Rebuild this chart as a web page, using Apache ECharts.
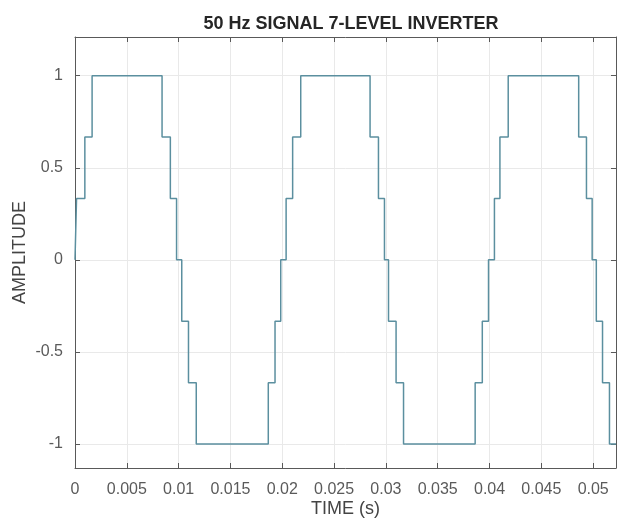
<!DOCTYPE html>
<html>
<head>
<meta charset="utf-8">
<style>
html,body{margin:0;padding:0;background:#fff;}
#chart{width:617px;height:521px;}
</style>
<script src="https://cdn.jsdelivr.net/npm/echarts@6/dist/echarts.min.js"></script>
</head>
<body>
<div id="chart"></div>
<script>
const stepTimes = [
  0, 0.00015, 0.00095, 0.00165, 0.0084, 0.0092, 0.0098, 0.0103, 0.01095, 0.0117, 0.01865, 0.0193, 0.01985,
  0.02037, 0.0210, 0.02178, 0.02847, 0.02928, 0.02986, 0.03025, 0.03098, 0.0317, 0.03861, 0.0393, 0.0399,
  0.04047, 0.0410, 0.0418, 0.0486, 0.04935, 0.0499, 0.0503, 0.0509, 0.05157, 0.0522
];
const stepLevels = [
  0, 0.333, 0.667, 1, 0.667, 0.333, 0, -0.333, -0.667, -1, -0.667, -0.333, 0,
  0.333, 0.667, 1, 0.667, 0.333, 0, -0.333, -0.667, -1, -0.667, -0.333, 0,
  0.333, 0.667, 1, 0.667, 0.333, 0, -0.333, -0.667, -1, -1
];
const xTickLabels = ['0','0.005','0.01','0.015','0.02','0.025','0.03','0.035','0.04','0.045','0.05'];
const yTickLabels = ['-1','-0.5','0','0.5','1'];

const seriesData = stepTimes.map((t, i) => [t, stepLevels[i]]);

const chart = echarts.init(document.getElementById('chart'), null, {renderer: 'canvas'});
const axisCol = '#595959';
const labelCol = '#5a5a5a';
const font = 'Liberation Sans, Arial, sans-serif';

function fmtX(v) {
  const str = String(+v.toFixed(4));
  return xTickLabels.indexOf(str) >= 0 ? str : '';
}
function fmtY(v) {
  const s = String(+v.toFixed(2));
  return yTickLabels.indexOf(s) >= 0 ? s : '';
}
const tick = {show: true, inside: true, length: 5, lineStyle: {color: axisCol}};
const line = {show: true, onZero: false, lineStyle: {color: axisCol, width: 1}};

chart.setOption({
  animation: false,
  backgroundColor: '#ffffff',
  title: {
    text: '50 Hz SIGNAL 7-LEVEL INVERTER',
    left: 346, top: 10, textAlign: 'center',
    textStyle: {fontFamily: font, fontSize: 18, fontWeight: 'bold', color: '#262626'}
  },
  grid: {left: 75, right: 1, top: 37, bottom: 53, containLabel: false, outerBoundsMode: 'none'},
  xAxis: [{
    type: 'value', min: 0, max: 0.0522, interval: 0.005, position: 'bottom',
    name: 'TIME (s)', nameLocation: 'middle', nameGap: 32, nameMoveOverlap: false,
    nameTextStyle: {fontFamily: font, fontSize: 18, color: '#444'},
    axisLine: line, axisTick: tick,
    axisLabel: {formatter: fmtX, fontFamily: font, fontSize: 16, color: labelCol, margin: 14, showMaxLabel: false},
    splitLine: {show: true, lineStyle: {color: '#e9e9e9', width: 1}}
  }, {
    type: 'value', min: 0, max: 0.0522, interval: 0.005, position: 'top',
    axisLine: line, axisTick: tick,
    axisLabel: {show: false}, splitLine: {show: false}
  }],
  yAxis: [{
    type: 'value', min: -1.13, max: 1.21, position: 'left',
    name: 'AMPLITUDE', nameLocation: 'middle', nameGap: 46, nameRotate: 90, nameMoveOverlap: false,
    nameTextStyle: {fontFamily: font, fontSize: 18, color: '#444'},
    axisLine: line, axisTick: tick,
    axisLabel: {formatter: fmtY, fontFamily: font, fontSize: 16, color: labelCol, margin: 12, showMinLabel: false, showMaxLabel: false},
    splitLine: {show: true, lineStyle: {color: '#e9e9e9', width: 1}}
  }, {
    type: 'value', min: -1.13, max: 1.21, position: 'right',
    axisLine: line, axisTick: tick,
    axisLabel: {show: false}, splitLine: {show: false}
  }],
  series: [{
    type: 'line', step: 'end', data: seriesData,
    xAxisIndex: 0, yAxisIndex: 0,
    showSymbol: false, symbol: 'none',
    lineStyle: {color: '#5b8f9f', width: 1.5},
    z: 3
  }]
});
</script>
</body>
</html>
